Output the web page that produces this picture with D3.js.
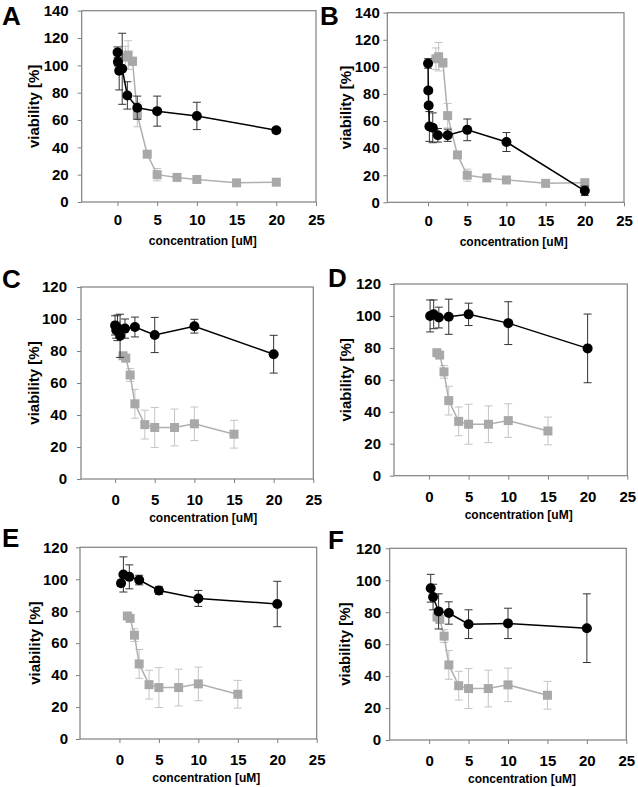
<!DOCTYPE html>
<html>
<head>
<meta charset="utf-8">
<script src="https://cdn.jsdelivr.net/npm/d3@7"></script>
<style>
  html, body { margin: 0; padding: 0; background: #fff; }
  svg { display: block; font-family: Arial, "Liberation Sans", sans-serif; }
</style>
</head>
<body>
<svg id="chart" width="638" height="787"></svg>
<script>
// ---------------- DATA ----------------
const panelLetters = ["A", "B", "C", "D", "E", "F"];
const xTickValues = [0, 5, 10, 15, 20, 25];
const yTicks140 = [0, 20, 40, 60, 80, 100, 120, 140];
const yTicks120 = [0, 20, 40, 60, 80, 100, 120];
const xAxisTitle = "concentration [uM]";
const yAxisTitle = "viability [%]";

// grey reference series (panels A, B)
const greyAB_x = [1.0, 1.35, 1.9, 2.5, 3.75, 5, 7.5, 10, 15, 20];
const greyAB_y = [106, 107.5, 103, 64, 35, 20, 18, 16.5, 14, 14.5];
const greyAB_err = [8, 10.5, 3, 9, 1.5, 4.5, 1.5, 1.5, 1.5, 1.5];

// grey reference series (panels C-F)
const greyCF_x = [1.0, 1.35, 1.9, 2.5, 3.75, 5, 7.5, 10, 15];
const greyCF_y = [77, 75.5, 65, 47, 34, 32.2, 32.2, 34.5, 28];
const greyCF_err = [1.5, 2, 4, 9, 9, 12.5, 11.5, 10.5, 8.7];

// black series per panel
const blackA_x = [0.02, 0.06, 0.22, 0.6, 1.25, 2.5, 5, 10, 20];
const blackA_y = [109.5, 102.5, 96, 97.5, 78, 69, 66.5, 63, 52.5];
const blackA_err = [4, 3, 14, 26, 10, 8.5, 11, 10, 2];

const blackB_x = [0, 0.03, 0.08, 0.17, 0.6, 1.25, 2.5, 5, 10, 20];
const blackB_y = [102.5, 82.5, 71.5, 56, 55, 49.5, 49.5, 53.5, 44.5, 8.5];
const blackB_err = [3.5, 2, 2, 11, 11, 5, 4.5, 8, 7, 3.5];

const blackC_x = [0, 0.15, 0.3, 0.63, 1.25, 2.5, 5, 10, 20];
const blackC_y = [96, 93, 94.5, 89.5, 94, 95, 90, 95.5, 78];
const blackC_err = [6, 5, 8, 13.5, 6, 6.2, 11, 4.3, 11.8];

const blackD_x = [0.15, 0.6, 1.25, 2.5, 5, 10, 20];
const blackD_y = [100, 101, 99, 99.5, 101, 95.5, 79.7];
const blackD_err = [10, 9, 6.5, 11, 7, 13.4, 21.5];

const blackE_x = [0.2, 0.5, 1.25, 2.5, 5, 10, 20];
const blackE_y = [97.5, 103, 101.5, 99.5, 93, 88, 84.5];
const blackE_err = [2, 11, 7.5, 3, 2.5, 5, 14.2];

const blackF_x = [0.2, 0.5, 1.2, 2.5, 5, 10, 20];
const blackF_y = [95, 89.5, 80.5, 79.5, 72.5, 73, 70];
const blackF_err = [8.7, 8, 11, 7, 9, 9.5, 21.5];

// ---------------- LAYOUT ----------------
const zip = (xs, ys, es) => xs.map((x, i) => ({x: x, y: ys[i], e: es[i]}));

const panels = [
  {letter: panelLetters[0], L: 81.7, R: 316, T: 10.7, B: 202, xMin: -4.5, yMax: 140, yTicks: yTicks140,
   grey: zip(greyAB_x, greyAB_y, greyAB_err), black: zip(blackA_x, blackA_y, blackA_err),
   yPad: 9, xLabOff: 18, yTitleX: 34, letterX: 2, letterY: 25, xTitleDx: 4},
  {letter: panelLetters[1], L: 387.3, R: 624, T: 12.7, B: 202.3, xMin: -5.2, yMax: 140, yTicks: yTicks140,
   grey: zip(greyAB_x, greyAB_y, greyAB_err), black: zip(blackB_x, blackB_y, blackB_err),
   yPad: 3.5, xLabOff: 18, yTitleX: 346, letterX: 320, letterY: 25, xTitleDx: 8},
  {letter: panelLetters[2], L: 81, R: 313.3, T: 287, B: 479, xMin: -4.3, yMax: 120, yTicks: yTicks120,
   grey: zip(greyCF_x, greyCF_y, greyCF_err), black: zip(blackC_x, blackC_y, blackC_err),
   yPad: 10, xLabOff: 21, yTitleX: 34, letterX: 2, letterY: 288, xTitleDx: 6},
  {letter: panelLetters[3], L: 394, R: 627.3, T: 284, B: 475.7, xMin: -4.4, yMax: 120, yTicks: yTicks120,
   grey: zip(greyCF_x, greyCF_y, greyCF_err), black: zip(blackD_x, blackD_y, blackD_err),
   yPad: 9, xLabOff: 21, yTitleX: 345.5, letterX: 328, letterY: 287, xTitleDx: 8},
  {letter: panelLetters[4], L: 80, R: 316.7, T: 547.3, B: 739, xMin: -5, yMax: 120, yTicks: yTicks120,
   grey: zip(greyCF_x, greyCF_y, greyCF_err), black: zip(blackE_x, blackE_y, blackE_err),
   yPad: 8, xLabOff: 21, yTitleX: 35, letterX: 2, letterY: 547, xTitleDx: 8},
  {letter: panelLetters[5], L: 389.7, R: 626.3, T: 548.3, B: 740, xMin: -5, yMax: 120, yTicks: yTicks120,
   grey: zip(greyCF_x, greyCF_y, greyCF_err), black: zip(blackF_x, blackF_y, blackF_err),
   yPad: 4.7, xLabOff: 21, yTitleX: 345, letterX: 328, letterY: 549, xTitleDx: 14}
];

const svg = d3.select("#chart");
svg.append("rect").attr("width", 638).attr("height", 787).attr("fill", "#fff");

const frameColor = "#808080";
const tickFont = 15;

panels.forEach(p => {
  const x = d3.scaleLinear().domain([p.xMin, 25]).range([p.L, p.R]);
  const y = d3.scaleLinear().domain([0, p.yMax]).range([p.B, p.T]);
  const g = svg.append("g");

  // x axis
  const xAx = g.append("g").attr("transform", `translate(0,${p.B})`)
    .call(d3.axisBottom(x).tickValues(xTickValues).tickSize(4)
      .tickPadding(p.xLabOff - 4 - 0.358 * tickFont).tickFormat(d3.format("d")));
  // y axis
  const yAx = g.append("g").attr("transform", `translate(${p.L},0)`)
    .call(d3.axisLeft(y).tickValues(p.yTicks).tickSize(4).tickPadding(p.yPad).tickFormat(d3.format("d")));

  [xAx, yAx].forEach(a => {
    a.select(".domain").remove();
    a.selectAll(".tick line").attr("stroke", frameColor).attr("stroke-width", 1);
    a.selectAll(".tick text").attr("fill", "#000").attr("font-size", tickFont)
      .attr("font-weight", "bold").attr("font-family", "Arial, 'Liberation Sans', sans-serif");
  });

  // frame
  g.append("rect").attr("x", p.L).attr("y", p.T).attr("width", p.R - p.L).attr("height", p.B - p.T)
    .attr("fill", "none").attr("stroke", frameColor).attr("stroke-width", 1.2);

  // titles
  g.append("text").attr("x", (p.L + p.R) / 2 + p.xTitleDx).attr("y", p.B + 39).attr("dy", "0.35em")
    .attr("text-anchor", "middle").attr("font-size", 12).attr("font-weight", "bold").text(xAxisTitle);
  g.append("text").attr("transform", `translate(${p.yTitleX},${(p.T + p.B) / 2}) rotate(-90)`)
    .attr("dy", "0.35em").attr("text-anchor", "middle").attr("font-size", 15).attr("font-weight", "bold")
    .text(yAxisTitle);
  g.append("text").attr("x", p.letterX).attr("y", p.letterY).attr("font-size", 26)
    .attr("font-weight", "bold").text(p.letter);

  const line = d3.line().x(d => x(d.x)).y(d => y(d.y));
  const cap = 4;

  // grey series
  const gg = g.append("g");
  gg.selectAll(".eb").data(p.grey).join("path")
    .attr("d", d => `M${x(d.x)},${y(d.y + d.e)}V${y(d.y - d.e)}M${x(d.x) - cap},${y(d.y + d.e)}h${2 * cap}M${x(d.x) - cap},${y(d.y - d.e)}h${2 * cap}`)
    .attr("stroke", "#c4c4c4").attr("stroke-width", 1).attr("fill", "none");
  gg.append("path").datum(p.grey).attr("d", line).attr("stroke", "#b0b0b0")
    .attr("stroke-width", 1.5).attr("fill", "none");
  gg.selectAll("rect").data(p.grey).join("rect")
    .attr("x", d => x(d.x) - 4.5).attr("y", d => y(d.y) - 4.5).attr("width", 9).attr("height", 9)
    .attr("fill", "#a8a8a8");

  // black series
  const bg = g.append("g");
  bg.selectAll(".eb").data(p.black).join("path")
    .attr("d", d => `M${x(d.x)},${y(d.y + d.e)}V${y(d.y - d.e)}M${x(d.x) - cap},${y(d.y + d.e)}h${2 * cap}M${x(d.x) - cap},${y(d.y - d.e)}h${2 * cap}`)
    .attr("stroke", "#333").attr("stroke-width", 1).attr("fill", "none");
  bg.append("path").datum(p.black).attr("d", line).attr("stroke", "#000")
    .attr("stroke-width", 1.5).attr("fill", "none");
  bg.selectAll("circle").data(p.black).join("circle")
    .attr("cx", d => x(d.x)).attr("cy", d => y(d.y)).attr("r", 5).attr("fill", "#000");
});
</script>
</body>
</html>
